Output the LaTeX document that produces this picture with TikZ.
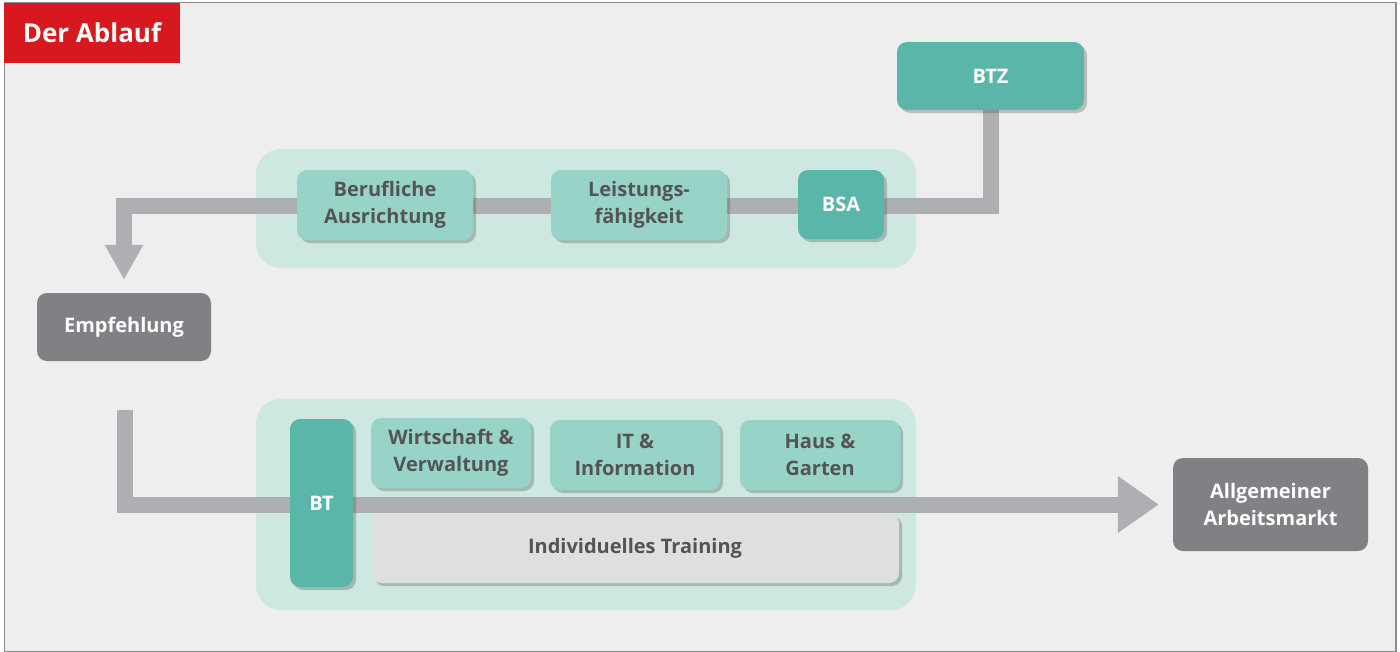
\documentclass[tikz,border=0pt]{standalone}
\usepackage{fontspec}
\setmainfont{Open Sans}
\usetikzlibrary{arrows.meta,shadows,backgrounds,calc}
\definecolor{bgc}{HTML}{EEEEEF}
\definecolor{framec}{HTML}{8C8C8C}
\definecolor{redc}{HTML}{D7191F}
\definecolor{panelc}{HTML}{CDE8E1}
\definecolor{mintc}{HTML}{98D3C8}
\definecolor{tealc}{HTML}{5AB6A9}
\definecolor{darkg}{HTML}{808184}
\definecolor{lightg}{HTML}{DEDFE1}
\definecolor{barc}{HTML}{AEAFB2}
\definecolor{txt}{HTML}{545454}
\pgfdeclarelayer{panels}
\pgfdeclarelayer{bars}
\pgfsetlayers{background,panels,bars,main}
\begin{document}
\begin{tikzpicture}[x=1pt,y=-1pt,
  lbl/.style={font=\bfseries\fontsize{20}{27}\selectfont, align=center, inner sep=0pt},
  shad/.style={drop shadow={shadow xshift=3pt, shadow yshift=-3pt, opacity=0.3, fill=black!70}},
  mintbox/.style={lbl, fill=mintc, text=txt, rounded corners=10pt, shad},
  tealbox/.style={lbl, fill=tealc, text=white, rounded corners=10pt, shad},
  greybox/.style={lbl, fill=darkg, text=white, rounded corners=10pt},
  lightbox/.style={lbl, fill=lightg, text=txt, rounded corners=10pt, shad},
  panel/.style={fill=panelc, rounded corners=25pt, inner sep=0pt},
  bar/.style={draw=barc, line width=16pt, line join=miter, line cap=butt}
]
\useasboundingbox (0,0) rectangle (1400,651);
\begin{pgfonlayer}{background}
  \fill[white] (0,0) rectangle (1400,651);
  \fill[bgc] (4.5,2.5) rectangle (1396,651);
  \draw[framec, line width=1.2pt] (4.5,2.5) rectangle (1396,652);
\end{pgfonlayer}

% title
\node[fill=redc, text=white, minimum width=176pt, minimum height=60pt, inner sep=0pt,
      font=\bfseries\fontsize{26}{30}\selectfont] (title) at (92,33) {Der Ablauf};

% panels
\begin{pgfonlayer}{panels}
  \node[panel, minimum width=660pt, minimum height=119pt] (p1) at (586,208.5) {};
  \node[panel, minimum width=660pt, minimum height=211pt] (p2) at (586,504.5) {};
\end{pgfonlayer}

% boxes
\node[mintbox, minimum width=176pt, minimum height=70pt] (beruf) at (385,205) {Berufliche\\Ausrichtung};
\node[mintbox, minimum width=176pt, minimum height=70pt] (leist) at (639,205) {Leistungs-\\fähigkeit};
\node[tealbox, minimum width=86pt, minimum height=69pt] (bsa) at (841,204.5) {BSA};
\node[tealbox, minimum width=187pt, minimum height=68pt] (btz) at (990.5,76) {BTZ};
\node[greybox, minimum width=174pt, minimum height=68pt] (emp) at (124,327) {Empfehlung};
\node[tealbox, minimum width=63pt, minimum height=168pt] (bt) at (321.5,503) {BT};
\node[mintbox, minimum width=160pt, minimum height=70pt] (wirt) at (451,453) {Wirtschaft \&\\Verwaltung};
\node[mintbox, minimum width=170pt, minimum height=70pt] (it) at (635,455) {IT \&\\Information};
\node[mintbox, minimum width=160pt, minimum height=70pt] (haus) at (820,455) {Haus \&\\Garten};
\node[lightbox, minimum width=528pt, minimum height=70pt] (indiv) at (635,548) {Individuelles Training};
\node[greybox, minimum width=195pt, minimum height=93pt] (arb) at (1270.5,504.5) {Allgemeiner\\Arbeitsmarkt};

\coordinate (start) at (125,410);

% connectors
\begin{pgfonlayer}{bars}
  \draw[bar, -{Triangle[width=36pt,length=35pt]}, shorten >=13pt]
    (btz.south) |- (emp.north |- 0,206) -- (emp.north);
  \draw[bar, -{Triangle[width=54pt,length=41pt]}, shorten >=14pt]
    (start) |- (arb.west);
\end{pgfonlayer}
\end{tikzpicture}
\end{document}
